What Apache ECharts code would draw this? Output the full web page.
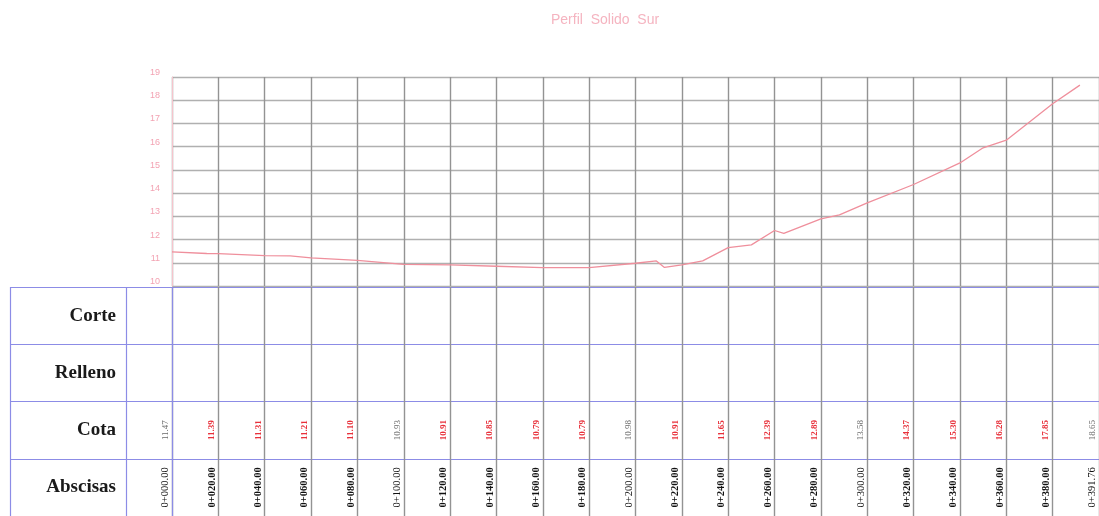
<!DOCTYPE html>
<html>
<head>
<meta charset="utf-8">
<title>Perfil Solido Sur</title>
<script src="https://cdn.jsdelivr.net/npm/echarts@6/dist/echarts.min.js"></script>
<style>
  html, body { margin: 0; padding: 0; background: #ffffff; }
  #chart { width: 1099px; height: 516px; }
</style>
</head>
<body>
<div id="chart"></div>
<script>
// Profile title
const titleText = 'Perfil  Solido  Sur';

// Stations (abscisas) and ground elevations (cota) at each table column
const stationLabels = [
  '0+000.00', '0+020.00', '0+040.00', '0+060.00', '0+080.00', '0+100.00',
  '0+120.00', '0+140.00', '0+160.00', '0+180.00', '0+200.00', '0+220.00',
  '0+240.00', '0+260.00', '0+280.00', '0+300.00', '0+320.00', '0+340.00',
  '0+360.00', '0+380.00', '0+391.76'
];
const stationChainage = [
  0, 20, 40, 60, 80, 100, 120, 140, 160, 180, 200, 220,
  240, 260, 280, 300, 320, 340, 360, 380, 391.76
];
const cota = [
  11.47, 11.39, 11.31, 11.21, 11.10, 10.93, 10.91, 10.85, 10.79, 10.79, 10.98,
  10.91, 11.65, 12.39, 12.89, 13.58, 14.37, 15.30, 16.28, 17.85, 18.65
];

// Extra ground vertices between stations
const breakChainage = [15, 51, 209, 212.5, 229, 250, 264, 288, 350];
const breakElev = [11.40, 11.30, 11.08, 10.80, 11.08, 11.77, 12.27, 13.06, 15.95];

// Elevation axis
const elevMin = 10;
const elevMax = 19;
const elevStep = 1;

// Table rows
const rowNames = ['Corte', 'Relleno', 'Cota', 'Abscisas'];
const columnStep = 20;

// Ground line: station points plus break points, ordered by chainage
const profile = stationChainage.map((s, i) => [s, cota[i]])
  .concat(breakChainage.map((s, i) => [s, breakElev[i]]))
  .sort((a, b) => a[0] - b[0]);

// Text cells of the table
const cotaCells = cota.map((v, i) => [i * columnStep, 'Cota', v.toFixed(2), i]);
const abscisaCells = stationLabels.map((t, i) => [i * columnStep, 'Abscisas', t, i]);

const gridLineColor = '#939393';
const tableRowColor = '#8c8ce6';
const pink = '#f3a3b3';

function isMajor(i) {
  return stationChainage[i] % 100 === 0 || i === stationChainage.length - 1;
}

const chart = echarts.init(document.getElementById('chart'), null, { renderer: 'canvas' });

chart.setOption({
  animation: false,
  backgroundColor: '#ffffff',
  title: {
    text: titleText,
    left: 546,
    top: 8,
    textStyle: { color: '#f5b4c0', fontSize: 14, fontWeight: 'normal', fontFamily: 'Liberation Sans' }
  },
  grid: [
    { left: 172, right: -3, top: 77, bottom: 230 },          // profile
    { left: 172, right: -3, top: 287, bottom: 0 },           // table columns
    { left: 10, width: 162, top: 287, bottom: 0 }            // row titles
  ],
  xAxis: [
    {
      gridIndex: 0, type: 'value', min: 0, max: 400, interval: columnStep,
      axisLine: { show: false }, axisTick: { show: false }, axisLabel: { show: false },
      splitLine: { show: true, lineStyle: { color: gridLineColor, width: 1.4 } }
    },
    {
      gridIndex: 1, type: 'value', min: 0, max: 400, interval: columnStep,
      axisLine: { show: false }, axisTick: { show: false }, axisLabel: { show: false },
      splitLine: { show: true, lineStyle: { color: gridLineColor, width: 1.4 } }
    },
    {
      gridIndex: 2, type: 'value', min: 0, max: 162, interval: 116,
      axisLine: { show: false }, axisTick: { show: false }, axisLabel: { show: false },
      splitLine: { show: true, lineStyle: { color: tableRowColor, width: 1.2 } }
    }
  ],
  yAxis: [
    {
      gridIndex: 0, type: 'value', min: elevMin, max: elevMax, interval: elevStep,
      axisLine: { show: true, lineStyle: { color: '#f6c4cc' } },
      axisTick: { show: false },
      axisLabel: {
        color: pink, fontSize: 9, margin: 12, verticalAlign: 'bottom',
        fontFamily: 'Liberation Sans'
      },
      splitLine: { show: true, lineStyle: { color: '#b0b0b0', width: 1.4 } }
    },
    {
      gridIndex: 1, type: 'category', data: rowNames, inverse: true,
      axisLine: { show: false }, axisTick: { show: false }, axisLabel: { show: false },
      splitLine: { show: true, lineStyle: { color: tableRowColor, width: 1.2 } }
    },
    {
      gridIndex: 2, type: 'category', data: rowNames, inverse: true,
      axisLine: { show: false }, axisTick: { show: false },
      axisLabel: {
        inside: true, align: 'right', margin: 106,
        fontFamily: 'Liberation Serif', fontWeight: 'bold', fontSize: 19, color: '#1a1a1a'
      },
      splitLine: { show: true, lineStyle: { color: tableRowColor, width: 1.2 } }
    }
  ],
  series: [
    {
      name: 'Terreno',
      type: 'line',
      xAxisIndex: 0, yAxisIndex: 0,
      data: profile,
      showSymbol: false,
      lineStyle: { color: '#ef8f9c', width: 1.3 },
      z: 5
    },
    {
      name: 'Cota',
      type: 'custom',
      xAxisIndex: 1, yAxisIndex: 1,
      data: cotaCells,
      renderItem: function (params, api) {
        const p = api.coord([api.value(0), api.value(1)]);
        const i = cotaCells[params.dataIndex][3];
        return {
          type: 'text',
          x: p[0] - 6.5, y: p[1],
          rotation: Math.PI / 2,
          style: {
            text: cotaCells[params.dataIndex][2],
            fill: isMajor(i) ? '#6a6a6a' : '#e8303a',
            font: (isMajor(i) ? 'normal' : 'bold') + ' 9px "Liberation Serif"',
            align: 'center', verticalAlign: 'middle'
          }
        };
      }
    },
    {
      name: 'Abscisas',
      type: 'custom',
      xAxisIndex: 1, yAxisIndex: 1,
      data: abscisaCells,
      renderItem: function (params, api) {
        const p = api.coord([api.value(0), api.value(1)]);
        const i = abscisaCells[params.dataIndex][3];
        return {
          type: 'text',
          x: p[0] - 6.5, y: p[1],
          rotation: Math.PI / 2,
          style: {
            text: abscisaCells[params.dataIndex][2],
            fill: '#111111',
            font: (isMajor(i) ? 'normal' : 'bold') + ' 10.5px "Liberation Serif"',
            align: 'center', verticalAlign: 'middle'
          }
        };
      }
    }
  ]
});
</script>
</body>
</html>
